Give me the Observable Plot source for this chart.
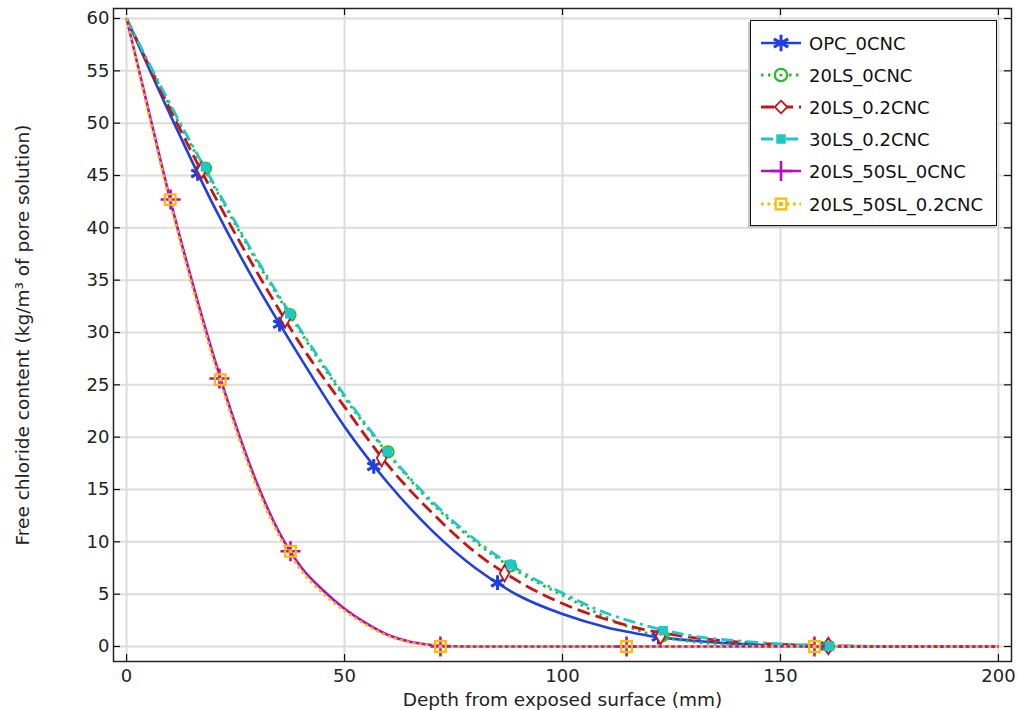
<!DOCTYPE html>
<html>
<head>
<meta charset="utf-8">
<script src="https://cdn.jsdelivr.net/npm/d3@7"></script>
<script src="https://cdn.jsdelivr.net/npm/@observablehq/plot@0.6"></script>
<style>
  html, body { margin: 0; padding: 0; background: #fff; }
  #wrap { position: relative; width: 1018px; height: 710px; font-family: "DejaVu Sans", sans-serif; }
  #legend { position: absolute; left: 750px; top: 20px; width: 245px; height: 204px;
            background: #fff; border: 1px solid #111; box-shadow: -2px 2px 0 #c8c8c8; }
  .row { position: absolute; left: 0; height: 20px; display: flex; align-items: center; }
  .row span { font-size: 18px; color: #111; margin-left: 7px; }
</style>
</head>
<body>
<div id="wrap"></div>
<script>
// ---- data ----
const seriesNames = ["OPC_0CNC", "20LS_0CNC", "20LS_0.2CNC", "30LS_0.2CNC", "20LS_50SL_0CNC", "20LS_50SL_0.2CNC"];

const depthA = [0, 10, 20, 30, 40, 50, 60, 70, 80, 90, 100, 110, 115, 120, 125, 130, 140, 150, 160, 170, 180, 190, 200];
const opc_0cnc      = [60, 50.8, 42.1, 34.4, 27.5, 21.0, 15.6, 11.1, 7.5, 4.85, 3.1, 1.85, 1.4, 1.0, 0.75, 0.55, 0.25, 0.1, 0.03, 0, 0, 0, 0];
const ls20_0cnc     = [60, 51.6, 44.0, 36.7, 30.0, 23.8, 18.4, 13.7, 10.0, 7.1, 4.9, 2.8, 1.9, 1.2, 0.75, 0.45, 0.15, 0.04, 0.01, 0, 0, 0, 0];
const ls20_02cnc    = [60, 51.3, 43.2, 35.7, 28.8, 22.9, 17.3, 12.8, 9.0, 6.2, 4.1, 2.6, 2.0, 1.5, 1.15, 0.85, 0.45, 0.2, 0.08, 0.02, 0, 0, 0];
const ls30_02cnc    = [60, 51.8, 44.2, 36.9, 30.2, 24.0, 18.5, 13.9, 10.2, 7.3, 5.1, 3.2, 2.5, 1.9, 1.4, 1.0, 0.55, 0.25, 0.1, 0.03, 0, 0, 0];

const depthB = [0, 5, 10, 15, 20, 25, 30, 35, 40, 45, 50, 55, 60, 65, 70, 75, 80, 100, 120, 140, 160, 180, 200];
const ls20sl50_0cnc  = [60, 51.3, 42.7, 34.9, 27.7, 21.2, 15.5, 10.9, 7.6, 5.4, 3.6, 2.2, 1.1, 0.45, 0.15, 0.03, 0, 0, 0, 0, 0, 0, 0];
const ls20sl50_02cnc = [60, 51.0, 42.4, 34.5, 27.3, 20.8, 15.1, 10.6, 7.3, 5.1, 3.4, 2.05, 1.0, 0.4, 0.13, 0.02, 0, 0, 0, 0, 0, 0, 0];

// marker positions per series
const mkOpcX = [16.3, 35.1, 56.7, 85.1, 122.0, 160.8];
const mkOpcY = [45.2, 30.8, 17.2, 6.1, 0.9, 0.05];
const mk20X  = [18.1, 37.5, 60.0, 88.1, 123.0, 161.0];
const mk20Y  = [45.7, 31.7, 18.6, 7.7, 1.05, 0.05];
const mk202X = [17.2, 36.4, 58.5, 86.7, 122.5, 161.0];
const mk202Y = [45.5, 31.3, 18.0, 7.0, 1.0, 0.05];
const mk302X = [18.1, 37.4, 59.8, 88.2, 123.1, 161.2];
const mk302Y = [45.8, 31.8, 18.6, 7.8, 1.5, 0.05];
const mkSl0X = [10.1, 21.3, 37.6, 72.0, 114.7, 157.8];
const mkSl0Y = [42.7, 25.6, 9.1, 0, 0, 0];
const mkSl2X = [10.0, 21.5, 37.6, 72.0, 114.7, 157.8];
const mkSl2Y = [42.7, 25.5, 9.1, 0, 0, 0];

const xTicks = [0, 50, 100, 150, 200];
const yTicks = [0, 5, 10, 15, 20, 25, 30, 35, 40, 45, 50, 55, 60];

// ---- styles ----
const styles = [
  {color: "#1f3fdf", dash: null,       width: 2.6, symbol: "asterisk", fill: "none",    r: 7,   sw: 3},
  {color: "#2db82d", dash: "2.5,4.5",  width: 2.8, symbol: "circle",   fill: "none",    r: 5.5, sw: 2.2},
  {color: "#c81414", dash: "13,6",     width: 2.8, symbol: "diamond",  fill: "white",   r: 5,   sw: 1.8},
  {color: "#1ec8c8", dash: "12,5,3,5", width: 2.8, symbol: "square",   fill: "#1ec8c8", r: 4.5, sw: 1.5},
  {color: "#b40fbe", dash: null,       width: 2.6, symbol: "plus",     fill: "none",    r: 6.5, sw: 2.6},
  {color: "#ffba00", dash: "2.8,3.6",  width: 2.8, symbol: "square",   fill: "none",    r: 6,   sw: 2.2}
];

const curves = [
  [depthA, opc_0cnc], [depthA, ls20_0cnc], [depthA, ls20_02cnc], [depthA, ls30_02cnc],
  [depthB, ls20sl50_0cnc], [depthB, ls20sl50_02cnc]
];
const markers = [
  [mkOpcX, mkOpcY], [mk20X, mk20Y], [mk202X, mk202Y], [mk302X, mk302Y], [mkSl0X, mkSl0Y], [mkSl2X, mkSl2Y]
];

// ---- layout ----
const W = 1018, H = 710;
const mL = 113, mR = 7, mT = 8, mB = 49;
const xDom = [-3, 203], yDom = [-1.433, 60.955];
const pxPerY = (H - mT - mB) / (yDom[1] - yDom[0]);
const pxPerX = (W - mL - mR) / (xDom[1] - xDom[0]);
const tickLen = 7;

const marks = [
  Plot.gridX(xTicks, {stroke: "#dcdcdc", strokeWidth: 2, strokeOpacity: 1}),
  Plot.gridY(yTicks, {stroke: "#dcdcdc", strokeWidth: 2, strokeOpacity: 1}),
];
curves.forEach(([xs, ys], i) => {
  const s = styles[i];
  const data = xs.map((x, j) => ({x, y: ys[j]}));
  marks.push(Plot.line(data, {x: "x", y: "y", stroke: s.color, strokeWidth: s.width,
    strokeDasharray: s.dash, curve: "monotone-x", strokeLinecap: "butt"}));
});
markers.forEach(([xs, ys], i) => {
  const s = styles[i];
  const data = xs.map((x, j) => ({x, y: ys[j]}));
  marks.push(Plot.dot(data, {x: "x", y: "y", symbol: () => s.symbol, r: s.r, stroke: s.color,
    fill: s.fill, strokeWidth: s.sw}));
  if (i === 1) marks.push(Plot.dot(data, {x: "x", y: "y", r: 1.6, fill: s.color}));
  if (i === 5) marks.push(Plot.dot(data, {x: "x", y: "y", symbol: () => "square", r: 2.2, fill: s.color}));
});
// inward ticks
const dy = tickLen / pxPerY, dx = tickLen / pxPerX;
marks.push(
  Plot.ruleX(xTicks, {y1: yDom[0], y2: yDom[0] + dy, stroke: "#111", strokeWidth: 1.2}),
  Plot.ruleX(xTicks, {y1: yDom[1], y2: yDom[1] - dy, stroke: "#111", strokeWidth: 1.2}),
  Plot.ruleY(yTicks, {x1: xDom[0], x2: xDom[0] + dx, stroke: "#111", strokeWidth: 1.2}),
  Plot.ruleY(yTicks, {x1: xDom[1], x2: xDom[1] - dx, stroke: "#111", strokeWidth: 1.2}),
  Plot.frame({stroke: "#222", strokeWidth: 1.5}),
  Plot.axisX(xTicks, {tickSize: 0, tickPadding: 8, fontSize: 18, label: null}),
  Plot.axisX({tickSize: 0, ticks: [], label: "Depth from exposed surface (mm)", fontSize: 18.5,
    labelAnchor: "center", labelOffset: 44, labelArrow: "none"}),
  Plot.axisY(yTicks, {tickSize: 0, tickPadding: 4, fontSize: 18, label: null}),
  Plot.axisY({tickSize: 0, ticks: [], fontSize: 18.5, label: "Free chloride content (kg/m³ of pore solution)",
    labelAnchor: "center", labelOffset: 98, labelArrow: "none"})
);

const chart = Plot.plot({
  width: W, height: H,
  marginLeft: mL, marginRight: mR, marginTop: mT, marginBottom: mB,
  x: {domain: xDom},
  y: {domain: yDom},
  style: {fontFamily: "DejaVu Sans, sans-serif", fontSize: "18px", color: "#222", background: "white"},
  marks
});
const wrap = document.getElementById("wrap");
wrap.appendChild(chart);

// ---- legend ----
const legend = document.createElement("div");
legend.id = "legend";
const rowY = [12, 44, 76, 108, 140, 173];
seriesNames.forEach((name, i) => {
  const s = styles[i];
  const row = document.createElement("div");
  row.className = "row";
  row.style.top = rowY[i] + "px";
  row.style.left = "9px";
  const sv = d3.create("svg").attr("width", 42).attr("height", 20);
  sv.append("line").attr("x1", 1).attr("x2", 41).attr("y1", 10).attr("y2", 10)
    .attr("stroke", s.color).attr("stroke-width", s.width).attr("stroke-dasharray", s.dash || null);
  const sym = d3.symbol().type({
    asterisk: d3.symbolAsterisk, circle: d3.symbolCircle, diamond: d3.symbolDiamond2,
    square: d3.symbolSquare2, plus: d3.symbolPlus
  }[s.symbol]).size(s.r * s.r * 4);
  const fill = s.fill === "none" ? "white" : s.fill;
  sv.append("path").attr("d", sym()).attr("transform", "translate(21,10)")
    .attr("stroke", s.color).attr("stroke-width", s.sw)
    .attr("fill", (s.symbol === "asterisk" || s.symbol === "plus") ? "none" : fill);
  if (i === 1) sv.append("circle").attr("cx", 21).attr("cy", 10).attr("r", 1.6).attr("fill", s.color);
  if (i === 5) sv.append("rect").attr("x", 19).attr("y", 8).attr("width", 4).attr("height", 4).attr("fill", s.color);
  row.appendChild(sv.node());
  const t = document.createElement("span");
  t.textContent = name;
  row.appendChild(t);
  legend.appendChild(row);
});
wrap.appendChild(legend);
</script>
</body>
</html>
